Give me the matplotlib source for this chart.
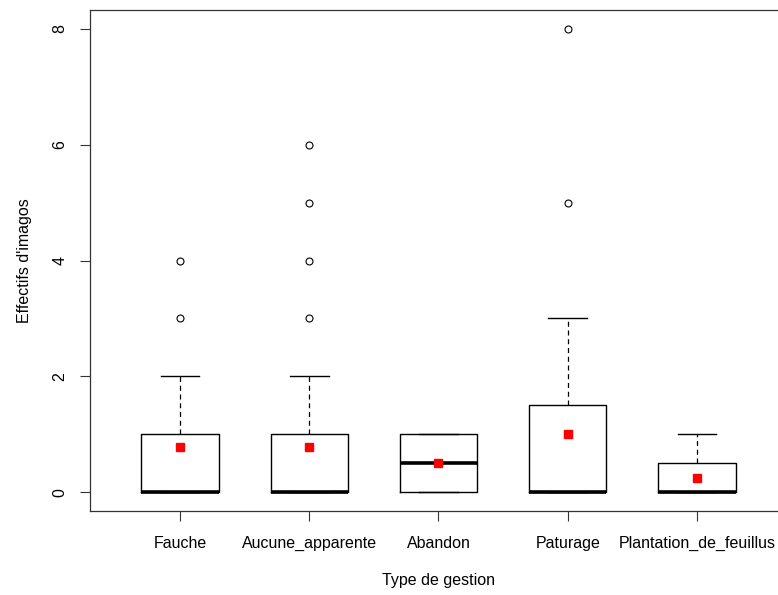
import matplotlib.pyplot as plt

plt.rcParams['font.family'] = ['Liberation Sans', 'DejaVu Sans']

# Boxplot summary
groupes = ["Fauche", "Aucune_apparente", "Abandon", "Paturage", "Plantation_de_feuillus"]
q1 = [0, 0, 0, 0, 0]
medianes = [0, 0, 0.5, 0, 0]
q3 = [1, 1, 1, 1.5, 0.5]
moust_bas = [0, 0, 0, 0, 0]
moust_haut = [2, 2, 1, 3, 1]
atypiques = [[3, 4], [3, 4, 5, 6], [], [5, 8], []]
moyennes = [0.79, 0.79, 0.5, 1.0, 0.25]

stats = []
for i, g in enumerate(groupes):
    stats.append({"label": g, "q1": q1[i], "med": medianes[i], "q3": q3[i],
                  "whislo": moust_bas[i], "whishi": moust_haut[i],
                  "fliers": atypiques[i]})

fig = plt.figure(figsize=(7.78, 5.95), dpi=100)
ax = fig.add_axes([89.6 / 778, 84 / 595, (787.4 - 89.6) / 778, (511 - 10) / 595])

pos = list(range(1, len(groupes) + 1))
ax.bxp(stats, positions=pos, widths=0.6, capwidths=0.3,
       boxprops=dict(color='black', linewidth=1.0),
       medianprops=dict(color='black', linewidth=2.6, solid_capstyle='butt'),
       whiskerprops=dict(color='black', linewidth=0.9, linestyle=(0, (4, 3))),
       capprops=dict(color='black', linewidth=1.0),
       flierprops=dict(marker='o', markerfacecolor='none', markeredgecolor='black',
                       markersize=5, markeredgewidth=0.8))

# Red squares for the means
ax.plot(pos, moyennes, linestyle='none', marker='s', color='red', markersize=6, zorder=5)

ax.set_xlim(0.3, 5.7)
ax.set_ylim(-0.32, 8.32)
ax.set_yticks([0, 2, 4, 6, 8])
ax.set_xticks(pos)
ax.set_xticklabels(groupes)
for lab in ax.get_yticklabels():
    lab.set_rotation(90)
    lab.set_va('center')

ax.tick_params(axis='both', labelsize=11.5, length=7, width=0.8, color='#333333')
ax.tick_params(axis='y', pad=9)
ax.tick_params(axis='x', pad=11)
for s in ax.spines.values():
    s.set_linewidth(0.9)
    s.set_color('#333333')

ax.set_xlabel("Type de gestion", fontsize=11.5, labelpad=16)
ax.set_ylabel("Effectifs d'imagos", fontsize=11.5, labelpad=15)

fig.savefig('out.png', dpi=100)
